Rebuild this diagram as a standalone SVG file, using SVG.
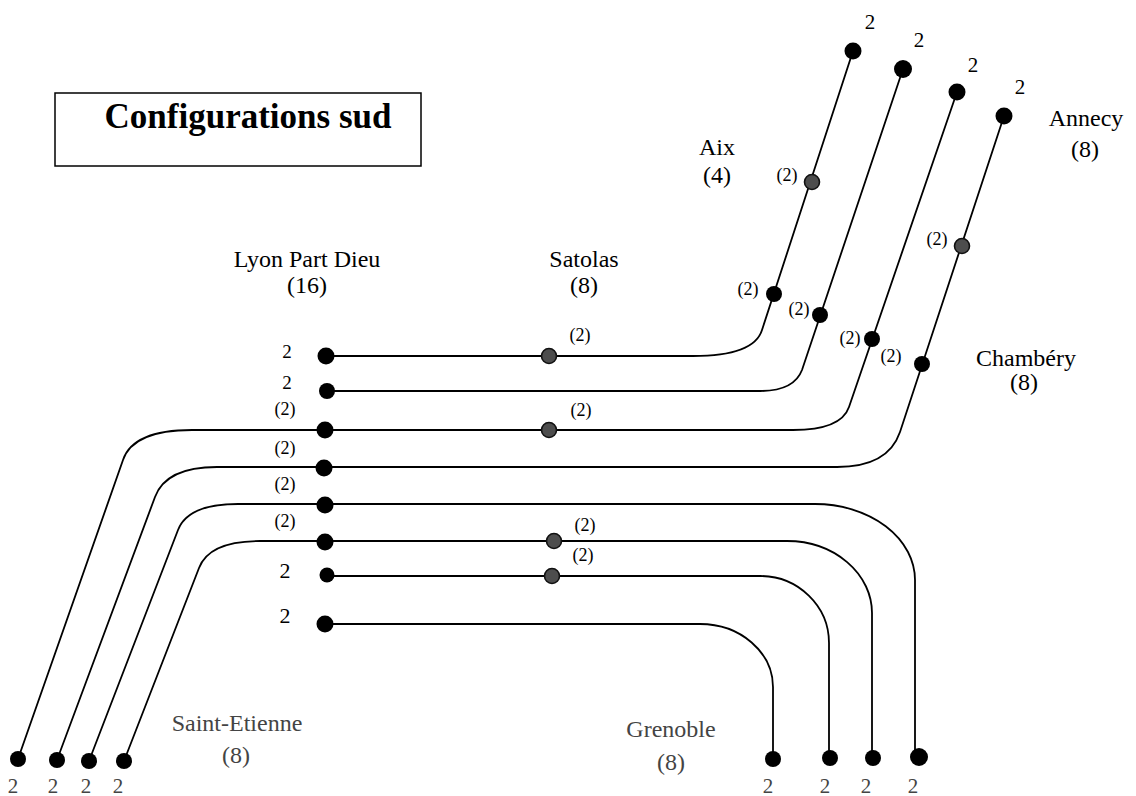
<svg xmlns="http://www.w3.org/2000/svg" width="1136" height="796" viewBox="0 0 1136 796">
  <style>
    text { font-family: "Liberation Serif", "Times New Roman", "DejaVu Serif", serif; fill: #000; }
    .city { font-size: 24px; text-anchor: middle; }
    .faded { fill: #444; }
    .num { font-size: 21px; text-anchor: middle; }
    .cap { font-size: 18px; text-anchor: middle; }
    .title { font-family: "Liberation Serif", "Times New Roman", serif; font-size: 35px; font-weight: 700; text-anchor: middle; }
    .link { fill: none; stroke: #000; stroke-width: 1.8; }
    .stop { fill: #000; }
    .via { fill: #4d4d4d; stroke: #111; stroke-width: 1.6; }
  </style>

  <!-- title box -->
  <g id="title">
    <rect x="55" y="93" width="366" height="73" fill="#fff" stroke="#000" stroke-width="1.5"/>
    <text class="title" x="248" y="128">Configurations sud</text>
  </g>

  <!-- routes -->
  <g id="connectors">
    <!-- Lyon to Aix / Annecy -->
    <path class="link" d="M326 356 H693 Q754 356 762 330 L853 51"/>
    <path class="link" d="M327 391 H760 Q794 391 802 370 L903 69"/>
    <path class="link" d="M325 430 H793 Q841 430 849 407 L957 92"/>
    <path class="link" d="M324 467 H837 Q888 467 900 432 L1004 116"/>
    <!-- Lyon to Saint-Etienne -->
    <path class="link" d="M18 759 L123 460 Q133 430 192 430 H325"/>
    <path class="link" d="M57 760 L155 497 Q166 467 217 467 H324"/>
    <path class="link" d="M89 761 L178 530 Q188 504 238 504 H325"/>
    <path class="link" d="M124 761 L199 568 Q209 541 260 541 H325"/>
    <!-- Lyon to Grenoble -->
    <path class="link" d="M325 504 H815 A100 76 0 0 1 915 580 V757"/>
    <path class="link" d="M325 541 H787 A85 72 0 0 1 872 613 V758"/>
    <path class="link" d="M327 576 H760 A69 67 0 0 1 829 643 V758"/>
    <path class="link" d="M325 624 H700 A73 63 0 0 1 773 687 V759"/>
  </g>

  <!-- Lyon Part Dieu -->
  <g id="lyon">
    <text class="city" x="307" y="267">Lyon Part Dieu</text>
    <text class="city" x="307" y="293">(16)</text>
    <circle class="stop" cx="326" cy="356" r="8.5"/>
    <circle class="stop" cx="327" cy="391" r="8"/>
    <circle class="stop" cx="325" cy="430" r="8.5"/>
    <circle class="stop" cx="324" cy="468" r="8.5"/>
    <circle class="stop" cx="325" cy="505" r="8.5"/>
    <circle class="stop" cx="325" cy="542" r="8.5"/>
    <circle class="stop" cx="327" cy="575" r="7.5"/>
    <circle class="stop" cx="325" cy="624" r="8.5"/>
    <text class="num" x="287" y="358" style="font-size:19px">2</text>
    <text class="num" x="287" y="389" style="font-size:19px">2</text>
    <text class="cap" x="285" y="415">(2)</text>
    <text class="cap" x="285" y="454">(2)</text>
    <text class="cap" x="285" y="490">(2)</text>
    <text class="cap" x="285" y="527">(2)</text>
    <text class="num" x="285" y="578" style="font-size:22px">2</text>
    <text class="num" x="285" y="623" style="font-size:22px">2</text>
  </g>

  <!-- Satolas -->
  <g id="satolas">
    <text class="city" x="584" y="267">Satolas</text>
    <text class="city" x="584" y="293">(8)</text>
    <circle class="via" cx="549" cy="356" r="7.5"/>
    <circle class="via" cx="549" cy="430" r="7.5"/>
    <circle class="via" cx="554" cy="541" r="7.5"/>
    <circle class="via" cx="552" cy="576" r="7.5"/>
    <text class="cap" x="580" y="341">(2)</text>
    <text class="cap" x="581" y="416">(2)</text>
    <text class="cap" x="585" y="531">(2)</text>
    <text class="cap" x="583" y="561">(2)</text>
  </g>

  <!-- Aix -->
  <g id="aix">
    <text class="city" x="717" y="155">Aix</text>
    <text class="city" x="717" y="183">(4)</text>
    <circle class="via" cx="812" cy="182" r="7.5"/>
    <text class="cap" x="787" y="181">(2)</text>
  </g>

  <!-- Chambéry -->
  <g id="chambery">
    <text class="city" x="1026" y="366">Chambéry</text>
    <text class="city" x="1024" y="390">(8)</text>
    <circle class="stop" cx="774" cy="294" r="8"/>
    <circle class="stop" cx="820" cy="315" r="8"/>
    <circle class="stop" cx="872" cy="339" r="8"/>
    <circle class="stop" cx="922" cy="364" r="8"/>
    <circle class="via" cx="962" cy="246" r="7.5"/>
    <text class="cap" x="748" y="295">(2)</text>
    <text class="cap" x="799" y="315">(2)</text>
    <text class="cap" x="850" y="344">(2)</text>
    <text class="cap" x="891" y="362">(2)</text>
    <text class="cap" x="937" y="245">(2)</text>
  </g>

  <!-- Annecy -->
  <g id="annecy">
    <text class="city" x="1086" y="126">Annecy</text>
    <text class="city" x="1085" y="157">(8)</text>
    <circle class="stop" cx="853" cy="51" r="8.5"/>
    <circle class="stop" cx="903" cy="69" r="9"/>
    <circle class="stop" cx="957" cy="92" r="8.5"/>
    <circle class="stop" cx="1004" cy="116" r="8.5"/>
    <text class="num" x="870" y="29">2</text>
    <text class="num" x="919" y="47">2</text>
    <text class="num" x="973" y="72">2</text>
    <text class="num" x="1020" y="94">2</text>
  </g>

  <!-- Saint-Etienne -->
  <g id="saint-etienne">
    <text class="city faded" x="237" y="731">Saint-Etienne</text>
    <text class="city faded" x="236" y="763">(8)</text>
    <circle class="stop" cx="18" cy="759" r="8"/>
    <circle class="stop" cx="57" cy="760" r="8"/>
    <circle class="stop" cx="89" cy="761" r="8"/>
    <circle class="stop" cx="124" cy="761" r="8"/>
    <text class="num faded" x="13" y="793">2</text>
    <text class="num faded" x="53" y="793">2</text>
    <text class="num faded" x="86" y="793">2</text>
    <text class="num faded" x="118" y="793">2</text>
  </g>

  <!-- Grenoble -->
  <g id="grenoble">
    <text class="city faded" x="671" y="737">Grenoble</text>
    <text class="city faded" x="671" y="770">(8)</text>
    <circle class="stop" cx="773" cy="759" r="8"/>
    <circle class="stop" cx="830" cy="758" r="8"/>
    <circle class="stop" cx="873" cy="758" r="8"/>
    <circle class="stop" cx="919" cy="757" r="9"/>
    <text class="num faded" x="768" y="793">2</text>
    <text class="num faded" x="825" y="793">2</text>
    <text class="num faded" x="866" y="793">2</text>
    <text class="num faded" x="913" y="793">2</text>
  </g>
</svg>
